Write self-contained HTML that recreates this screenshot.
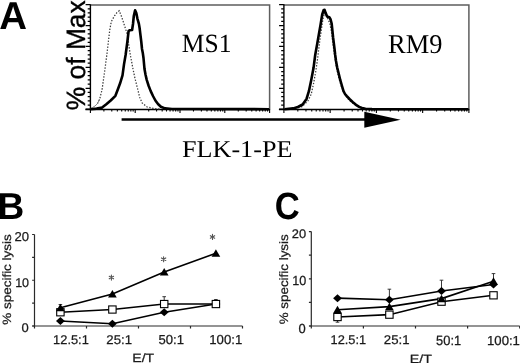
<!DOCTYPE html>
<html><head><meta charset="utf-8"><style>
html,body{margin:0;padding:0;background:#fff;width:520px;height:363px;overflow:hidden}
svg{display:block;will-change:transform}
text{font-variant-ligatures:none;font-kerning:none}
</style></head><body>
<svg width="520" height="363" viewBox="0 0 520 363" text-rendering="geometricPrecision">
<path d="M90.4,5.1H269.6V109.5" fill="none" stroke="#5e5e5e" stroke-width="1.5"/>
<path d="M90.4,4.3V110.0" stroke="#000" stroke-width="1.4"/>
<path d="M85.4,109.5H270.1" stroke="#000" stroke-width="1.4"/>
<path d="M85.60,4.60H90.4M87.70,8.79H90.4M87.70,12.97H90.4M87.70,17.16H90.4M87.70,21.34H90.4M85.60,25.52H90.4M87.70,29.71H90.4M87.70,33.89H90.4M87.70,38.08H90.4M87.70,42.27H90.4M85.60,46.45H90.4M87.70,50.63H90.4M87.70,54.82H90.4M87.70,59.00H90.4M87.70,63.19H90.4M85.60,67.37H90.4M87.70,71.56H90.4M87.70,75.74H90.4M87.70,79.93H90.4M87.70,84.11H90.4M85.60,88.30H90.4M87.70,92.48H90.4M87.70,96.67H90.4M87.70,100.85H90.4M87.70,105.04H90.4M85.60,109.22H90.4" stroke="#000" stroke-width="1.25"/>
<path d="M90.40,109.5V112.90M103.89,109.5V111.40M111.78,109.5V111.40M117.37,109.5V111.40M121.71,109.5V111.40M125.26,109.5V111.40M128.26,109.5V111.40M130.86,109.5V111.40M133.15,109.5V111.40M135.20,109.5V112.90M148.69,109.5V111.40M156.58,109.5V111.40M162.17,109.5V111.40M166.51,109.5V111.40M170.06,109.5V111.40M173.06,109.5V111.40M175.66,109.5V111.40M177.95,109.5V111.40M180.00,109.5V112.90M193.49,109.5V111.40M201.38,109.5V111.40M206.97,109.5V111.40M211.31,109.5V111.40M214.86,109.5V111.40M217.86,109.5V111.40M220.46,109.5V111.40M222.75,109.5V111.40M224.80,109.5V112.90M238.29,109.5V111.40M246.18,109.5V111.40M251.77,109.5V111.40M256.11,109.5V111.40M259.66,109.5V111.40M262.66,109.5V111.40M265.26,109.5V111.40M267.55,109.5V111.40M269.60,109.5V112.90" stroke="#000" stroke-width="1.1"/>
<path d="M283.9,5.1H468.9V109.5" fill="none" stroke="#5e5e5e" stroke-width="1.5"/>
<path d="M283.9,4.3V110.0" stroke="#000" stroke-width="1.4"/>
<path d="M278.9,109.5H469.4" stroke="#000" stroke-width="1.4"/>
<path d="M279.10,4.60H283.9M281.20,8.79H283.9M281.20,12.97H283.9M281.20,17.16H283.9M281.20,21.34H283.9M279.10,25.52H283.9M281.20,29.71H283.9M281.20,33.89H283.9M281.20,38.08H283.9M281.20,42.27H283.9M279.10,46.45H283.9M281.20,50.63H283.9M281.20,54.82H283.9M281.20,59.00H283.9M281.20,63.19H283.9M279.10,67.37H283.9M281.20,71.56H283.9M281.20,75.74H283.9M281.20,79.93H283.9M281.20,84.11H283.9M279.10,88.30H283.9M281.20,92.48H283.9M281.20,96.67H283.9M281.20,100.85H283.9M281.20,105.04H283.9M279.10,109.22H283.9" stroke="#000" stroke-width="1.25"/>
<path d="M283.90,109.5V112.90M297.82,109.5V111.40M305.97,109.5V111.40M311.75,109.5V111.40M316.23,109.5V111.40M319.89,109.5V111.40M322.99,109.5V111.40M325.67,109.5V111.40M328.03,109.5V111.40M330.15,109.5V112.90M344.07,109.5V111.40M352.22,109.5V111.40M358.00,109.5V111.40M362.48,109.5V111.40M366.14,109.5V111.40M369.24,109.5V111.40M371.92,109.5V111.40M374.28,109.5V111.40M376.40,109.5V112.90M390.32,109.5V111.40M398.47,109.5V111.40M404.25,109.5V111.40M408.73,109.5V111.40M412.39,109.5V111.40M415.49,109.5V111.40M418.17,109.5V111.40M420.53,109.5V111.40M422.65,109.5V112.90M436.57,109.5V111.40M444.72,109.5V111.40M450.50,109.5V111.40M454.98,109.5V111.40M458.64,109.5V111.40M461.74,109.5V111.40M464.42,109.5V111.40M466.78,109.5V111.40M468.90,109.5V112.90" stroke="#000" stroke-width="1.1"/>
<polyline points="97.40,103.70 99.70,99.00 102.10,89.50 103.60,78.50 105.20,67.60 106.00,61.00 106.80,55.00 108.20,43.00 109.80,29.80 111.20,22.00 112.40,19.40 114.70,15.60 117.00,12.50 119.20,10.80 121.50,16.40 124.50,25.50 127.60,35.30 128.80,45.00 130.30,55.00 131.50,61.00 132.70,67.60 135.00,78.50 137.40,88.00 139.70,97.40 142.10,102.90 146.80,106.80 153.10,108.40 160.00,109.10" fill="none" stroke="#3a3a3a" stroke-width="1.25" stroke-dasharray="1.4,1.6"/>
<polyline points="90.80,108.30 92.50,107.50 95.00,106.00 97.40,103.70 99.70,99.00" fill="none" stroke="#888" stroke-width="1.0"/>
<polyline points="90.50,109.20 96.60,108.60 102.10,107.60 106.00,104.50 110.70,100.50 115.40,95.80 117.80,89.50 120.10,83.30 122.50,75.40 124.00,64.40 125.60,55.00 127.40,41.50 128.60,31.00 130.00,30.20 132.10,30.00 133.00,24.00 133.80,16.00 135.10,10.30 136.30,13.00 137.40,18.60 138.90,23.90 139.60,28.00 140.50,35.30 141.30,42.00 142.00,49.00 142.80,53.00 143.50,58.00 144.50,69.10 145.60,75.00 146.80,80.10 148.70,86.00 150.70,91.10 153.00,96.00 155.40,100.50 158.00,104.00 160.90,106.80 165.00,108.40 172.00,109.00 269.00,109.20" fill="none" stroke="#000" stroke-width="2.6" stroke-linejoin="round"/>
<polyline points="298.00,107.60 302.00,106.60 304.20,104.50 308.10,100.60 311.20,94.30 313.60,83.30 315.90,70.70 317.40,60.00 318.60,50.00 319.90,40.00 321.30,30.00 322.80,20.00 324.40,13.00 326.00,15.00 328.00,19.00 330.00,24.00 331.60,33.00 333.00,44.00 334.60,56.00 336.60,68.00 338.80,78.00 341.50,87.00 345.00,95.00 349.50,100.50 355.00,104.80 360.00,107.50 366.00,108.80" fill="none" stroke="#3a3a3a" stroke-width="1.25" stroke-dasharray="1.4,1.6"/>
<polyline points="284.50,109.20 293.10,108.40 297.90,107.00 302.60,104.50 306.50,99.00 308.90,91.20 311.20,80.20 313.60,67.60 315.20,55.00 317.10,44.60 318.80,34.70 320.60,24.60 322.20,14.50 323.70,10.00 324.60,9.90 325.70,13.10 327.10,16.60 329.30,17.20 330.60,19.50 331.70,23.80 333.10,37.50 334.50,48.60 335.20,55.00 336.00,61.00 337.20,67.60 338.80,74.00 340.30,80.20 342.00,86.00 343.50,91.20 345.00,94.00 346.60,95.90 349.50,99.00 352.90,102.20 356.00,104.80 359.20,106.90 362.00,108.00 365.50,108.70 372.00,109.10 468.50,109.20" fill="none" stroke="#000" stroke-width="2.6" stroke-linejoin="round"/>
<path d="M121.6,119.6H366" stroke="#000" stroke-width="2.5"/>
<path d="M364.3,111.8L400.6,119.8L364.3,127.8Z" fill="#000"/>
<text transform="translate(-0.658,28.500) scale(0.9872,1)" font-family="Liberation Sans" font-weight="bold" font-size="38.954" fill="#000">A</text>
<text transform="translate(84.742,110.241) rotate(-90) scale(0.9979,1)" font-family="Liberation Sans" font-weight="normal" font-size="26.452" fill="#000" stroke="#000" stroke-width="0.4">% of Max</text>
<text transform="translate(181.815,51.693) scale(0.9709,1)" font-family="Liberation Serif" font-weight="normal" font-size="26.270" fill="#000">MS1</text>
<text transform="translate(388.039,52.835) scale(0.9757,1)" font-family="Liberation Serif" font-weight="normal" font-size="27.088" fill="#000">RM9</text>
<text transform="translate(182.047,157.200) scale(1.0852,1)" font-family="Liberation Serif" font-weight="normal" font-size="24.085" fill="#000">FLK-1-PE</text>
<path d="M34.5,234.5V326.0M32.3,326.0H242.5" fill="none" stroke="#2a2a2a" stroke-width="1.2"/>
<path d="M32.1,326.00H34.5M32.1,303.12H34.5M32.1,280.25H34.5M32.1,257.38H34.5M32.1,234.50H34.5M34.50,326.0V328.6M86.50,326.0V328.6M138.50,326.0V328.6M190.50,326.0V328.6M242.50,326.0V328.6" stroke="#2a2a2a" stroke-width="1.2"/>
<path d="M60.4,307.7V304.5M58.6,304.5H62.2" stroke="#222" stroke-width="0.9"/>
<path d="M164.2,304.0V296.7M162.4,296.7H166.0" stroke="#222" stroke-width="0.9"/>
<path d="M215.9,304.0V299.5M214.1,299.5H217.7" stroke="#222" stroke-width="0.9"/>
<polyline points="60.40,320.97 112.40,323.71 164.20,312.27 215.90,304.04" fill="none" stroke="#000" stroke-width="1.6"/>
<polyline points="60.40,312.27 112.40,309.53 164.20,304.04 215.90,304.04" fill="none" stroke="#000" stroke-width="1.6"/>
<polyline points="60.40,307.70 112.40,293.98 164.20,272.01 215.90,253.26" fill="none" stroke="#000" stroke-width="1.6"/>
<path d="M60.40,316.97L64.80,320.97L60.40,324.97L56.00,320.97Z" fill="#000"/>
<path d="M112.40,319.71L116.80,323.71L112.40,327.71L108.00,323.71Z" fill="#000"/>
<path d="M164.20,308.27L168.60,312.27L164.20,316.27L159.80,312.27Z" fill="#000"/>
<path d="M215.90,300.04L220.30,304.04L215.90,308.04L211.50,304.04Z" fill="#000"/>
<rect x="56.70" y="308.67" width="7.4" height="7.2" fill="#fff" stroke="#000" stroke-width="1.1"/>
<rect x="108.70" y="305.93" width="7.4" height="7.2" fill="#fff" stroke="#000" stroke-width="1.1"/>
<rect x="160.50" y="300.44" width="7.4" height="7.2" fill="#fff" stroke="#000" stroke-width="1.1"/>
<rect x="212.20" y="300.44" width="7.4" height="7.2" fill="#fff" stroke="#000" stroke-width="1.1"/>
<path d="M60.40,303.80L64.75,311.30L56.05,311.30Z" fill="#000"/>
<path d="M112.40,290.08L116.75,297.58L108.05,297.58Z" fill="#000"/>
<path d="M164.20,268.12L168.55,275.62L159.85,275.62Z" fill="#000"/>
<path d="M215.90,249.36L220.25,256.86L211.55,256.86Z" fill="#000"/>
<path d="M111.4,275.1V280.1M109.23,276.35L113.57,278.85M113.57,276.35L109.23,278.85" stroke="#555" stroke-width="1.1" stroke-linecap="round"/>
<path d="M163.6,256.7V261.7M161.43,257.95L165.77,260.45M165.77,257.95L161.43,260.45" stroke="#555" stroke-width="1.1" stroke-linecap="round"/>
<path d="M212.5,234.4V239.4M210.33,235.65L214.67,238.15M214.67,235.65L210.33,238.15" stroke="#555" stroke-width="1.1" stroke-linecap="round"/>
<path d="M311.3,231.6V326.0M309.1,326.0H519.7" fill="none" stroke="#2a2a2a" stroke-width="1.2"/>
<path d="M308.90000000000003,326.00H311.3M308.90000000000003,302.40H311.3M308.90000000000003,278.80H311.3M308.90000000000003,255.20H311.3M308.90000000000003,231.60H311.3M311.30,326.0V328.6M363.40,326.0V328.6M415.50,326.0V328.6M467.60,326.0V328.6M519.70,326.0V328.6" stroke="#2a2a2a" stroke-width="1.2"/>
<path d="M337.5,317.0V322.2M335.7,322.2H339.3" stroke="#222" stroke-width="0.9"/>
<path d="M389.4,299.8V289.2M387.6,289.2H391.2" stroke="#222" stroke-width="0.9"/>
<path d="M441.5,291.1V280.2M439.7,280.2H443.3" stroke="#222" stroke-width="0.9"/>
<path d="M493.5,284.5V273.6M491.7,273.6H495.3" stroke="#222" stroke-width="0.9"/>
<polyline points="337.50,298.15 389.40,299.80 441.50,291.07 493.50,284.46" fill="none" stroke="#000" stroke-width="1.6"/>
<polyline points="337.50,317.03 389.40,314.67 441.50,301.69 493.50,295.32" fill="none" stroke="#000" stroke-width="1.6"/>
<polyline points="337.50,309.72 389.40,306.65 441.50,298.62 493.50,281.16" fill="none" stroke="#000" stroke-width="1.6"/>
<path d="M337.50,294.15L341.90,298.15L337.50,302.15L333.10,298.15Z" fill="#000"/>
<path d="M389.40,295.80L393.80,299.80L389.40,303.80L385.00,299.80Z" fill="#000"/>
<path d="M441.50,287.07L445.90,291.07L441.50,295.07L437.10,291.07Z" fill="#000"/>
<path d="M493.50,280.46L497.90,284.46L493.50,288.46L489.10,284.46Z" fill="#000"/>
<rect x="333.80" y="313.43" width="7.4" height="7.2" fill="#fff" stroke="#000" stroke-width="1.1"/>
<rect x="385.70" y="311.07" width="7.4" height="7.2" fill="#fff" stroke="#000" stroke-width="1.1"/>
<rect x="437.80" y="298.09" width="7.4" height="7.2" fill="#fff" stroke="#000" stroke-width="1.1"/>
<rect x="489.80" y="291.72" width="7.4" height="7.2" fill="#fff" stroke="#000" stroke-width="1.1"/>
<path d="M337.50,305.82L341.85,313.32L333.15,313.32Z" fill="#000"/>
<path d="M389.40,302.75L393.75,310.25L385.05,310.25Z" fill="#000"/>
<path d="M441.50,294.72L445.85,302.22L437.15,302.22Z" fill="#000"/>
<path d="M493.50,277.26L497.85,284.76L489.15,284.76Z" fill="#000"/>
<text transform="translate(-2.579,218.500) scale(0.9882,1)" font-family="Liberation Sans" font-weight="bold" font-size="37.501" fill="#000">B</text>
<text transform="translate(14.541,241.074) scale(1.0192,1)" font-family="Liberation Sans" font-weight="normal" font-size="12.853" fill="#1a1a1a" stroke="#1a1a1a" stroke-width="0.25">20</text>
<text transform="translate(15.145,286.776) scale(0.9862,1)" font-family="Liberation Sans" font-weight="normal" font-size="12.712" fill="#1a1a1a" stroke="#1a1a1a" stroke-width="0.25">10</text>
<text transform="translate(21.493,332.376) scale(1.0203,1)" font-family="Liberation Sans" font-weight="normal" font-size="12.712" fill="#1a1a1a" stroke="#1a1a1a" stroke-width="0.25">0</text>
<text transform="translate(53.122,343.976) scale(1.0103,1)" font-family="Liberation Sans" font-weight="normal" font-size="12.712" fill="#1a1a1a" stroke="#1a1a1a" stroke-width="0.25">12.5:1</text>
<text transform="translate(106.336,343.976) scale(1.0392,1)" font-family="Liberation Sans" font-weight="normal" font-size="12.712" fill="#1a1a1a" stroke="#1a1a1a" stroke-width="0.25">25:1</text>
<text transform="translate(158.474,344.373) scale(1.0109,1)" font-family="Liberation Sans" font-weight="normal" font-size="12.994" fill="#1a1a1a" stroke="#1a1a1a" stroke-width="0.25">50:1</text>
<text transform="translate(209.297,344.373) scale(1.0132,1)" font-family="Liberation Sans" font-weight="normal" font-size="12.994" fill="#1a1a1a" stroke="#1a1a1a" stroke-width="0.25">100:1</text>
<text transform="translate(132.346,362.183) scale(1.1735,1)" font-family="Liberation Sans" font-weight="normal" font-size="11.983" fill="#1a1a1a" stroke="#1a1a1a" stroke-width="0.25">E/T</text>
<text transform="translate(10.600,324.780) rotate(-90) scale(1.1225,1)" font-family="Liberation Sans" font-weight="normal" font-size="12.000" fill="#1a1a1a" stroke="#1a1a1a" stroke-width="0.25">% specific lysis</text>
<text transform="translate(274.682,218.629) scale(0.9098,1)" font-family="Liberation Sans" font-weight="bold" font-size="37.994" fill="#000">C</text>
<text transform="translate(291.751,238.379) scale(1.0382,1)" font-family="Liberation Sans" font-weight="normal" font-size="12.429" fill="#1a1a1a" stroke="#1a1a1a" stroke-width="0.25">20</text>
<text transform="translate(292.337,285.372) scale(0.9621,1)" font-family="Liberation Sans" font-weight="normal" font-size="13.135" fill="#1a1a1a" stroke="#1a1a1a" stroke-width="0.25">10</text>
<text transform="translate(298.593,332.672) scale(0.9874,1)" font-family="Liberation Sans" font-weight="normal" font-size="13.135" fill="#1a1a1a" stroke="#1a1a1a" stroke-width="0.25">0</text>
<text transform="translate(330.525,344.376) scale(1.0073,1)" font-family="Liberation Sans" font-weight="normal" font-size="12.712" fill="#1a1a1a" stroke="#1a1a1a" stroke-width="0.25">12.5:1</text>
<text transform="translate(383.836,344.376) scale(1.0392,1)" font-family="Liberation Sans" font-weight="normal" font-size="12.712" fill="#1a1a1a" stroke="#1a1a1a" stroke-width="0.25">25:1</text>
<text transform="translate(436.085,344.869) scale(0.9590,1)" font-family="Liberation Sans" font-weight="normal" font-size="13.418" fill="#1a1a1a" stroke="#1a1a1a" stroke-width="0.25">50:1</text>
<text transform="translate(486.997,344.573) scale(1.0132,1)" font-family="Liberation Sans" font-weight="normal" font-size="12.994" fill="#1a1a1a" stroke="#1a1a1a" stroke-width="0.25">100:1</text>
<text transform="translate(409.729,362.984) scale(1.2045,1)" font-family="Liberation Sans" font-weight="normal" font-size="11.847" fill="#1a1a1a" stroke="#1a1a1a" stroke-width="0.25">E/T</text>
<text transform="translate(287.800,324.277) rotate(-90) scale(1.0979,1)" font-family="Liberation Sans" font-weight="normal" font-size="12.200" fill="#1a1a1a" stroke="#1a1a1a" stroke-width="0.25">% specific lysis</text>
</svg>
</body></html>
